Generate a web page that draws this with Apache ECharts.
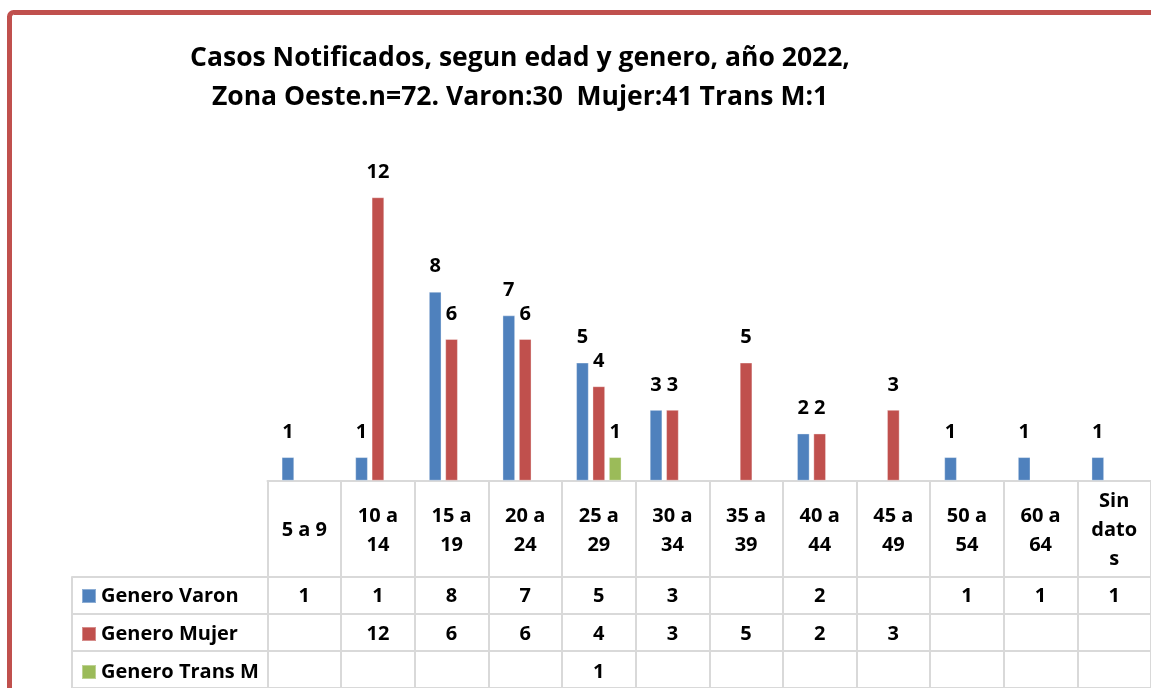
<!DOCTYPE html>
<html>
<head>
<meta charset="utf-8">
<title>Casos Notificados 2022 - Zona Oeste</title>
<script src="https://cdn.jsdelivr.net/npm/echarts@6/dist/echarts.min.js"></script>
<style>
  html, body { margin: 0; padding: 0; background: #ffffff; }
  #chart { width: 1151px; height: 688px; }
</style>
</head>
<body>
<div id="chart"></div>
<script>
// Age groups (table header row) and their wrapped labels
const categories = ['5 a 9', '10 a 14', '15 a 19', '20 a 24', '25 a 29', '30 a 34',
                    '35 a 39', '40 a 44', '45 a 49', '50 a 54', '60 a 64', 'Sin datos'];
const categoryLabels = ['5 a 9', '10 a\n14', '15 a\n19', '20 a\n24', '25 a\n29', '30 a\n34',
                        '35 a\n39', '40 a\n44', '45 a\n49', '50 a\n54', '60 a\n64', 'Sin\ndato\ns'];

// Cases per gender (null = no cases reported)
const seriesNames = ['Genero Varon', 'Genero Mujer', 'Genero Trans M'];
const varon = [1, 1, 8, 7, 5, 3, null, 2, null, 1, 1, 1];
const mujer = [null, 12, 6, 6, 4, 3, 5, 2, 3, null, null, null];
const trans = [null, null, null, null, 1, null, null, null, null, null, null, null];

const colors = ['#4f81bd', '#c0504d', '#9bbb59'];
const FONT = '"Open Sans"';
const GRID_LINE = '#d9d9d9';
const TEXT_SIZE = 20;

const chart = echarts.init(document.getElementById('chart'), null, { renderer: 'canvas' });

const cellText = (arr) => (v, i) => (arr[i] == null ? '' : String(arr[i]));

// One hidden-line category axis per table row, stacked under the plot
function rowAxis(arr, offset) {
  return {
    type: 'category',
    gridIndex: 0,
    position: 'bottom',
    offset: offset,
    data: categories,
    axisLine: { show: false },
    axisTick: { show: false },
    axisLabel: {
      interval: 0,
      margin: 20,
      verticalAlign: 'middle',
      formatter: cellText(arr),
      color: '#000',
      fontFamily: FONT,
      fontWeight: 'bold',
      fontSize: TEXT_SIZE
    }
  };
}

function barSeries(name, data, color) {
  return {
    name: name,
    type: 'bar',
    xAxisIndex: 0,
    yAxisIndex: 0,
    data: data,
    barWidth: 12.7,
    barGap: '29%',
    itemStyle: { color: color, borderColor: 'rgba(255,255,255,0.35)', borderWidth: 1 },
    label: {
      show: true,
      position: 'top',
      distance: 15,
      color: '#000',
      fontFamily: FONT,
      fontWeight: 'bold',
      fontSize: TEXT_SIZE,
      lineHeight: 20
    }
  };
}

const option = {
  backgroundColor: '#ffffff',
  animation: false,
  color: colors,
  title: {
    text: 'Casos Notificados, segun edad y genero, año 2022,\nZona Oeste.n=72. Varon:30  Mujer:41 Trans M:1',
    left: 520,
    top: 39,
    textAlign: 'center',
    padding: 0,
    textStyle: {
      color: '#000',
      fontFamily: FONT,
      fontWeight: 'bold',
      fontSize: 26.5,
      lineHeight: 39
    }
  },
  legend: {
    orient: 'vertical',
    left: 81,
    top: 586,
    icon: 'rect',
    itemWidth: 14,
    itemHeight: 14,
    itemGap: 18,
    selectedMode: false,
    padding: 0,
    data: seriesNames,
    textStyle: {
      color: '#000',
      fontFamily: FONT,
      fontWeight: 'bold',
      fontSize: TEXT_SIZE,
      lineHeight: 20
    }
  },
  graphic: [{
    type: 'rect',
    shape: { x: 9.5, y: 12.5, width: 1300, height: 900, r: 4 },
    style: { fill: 'none', stroke: '#c0504d', lineWidth: 5 },
    silent: true
  }],
  grid: [
    // plot area: category columns, bars sit on the header row line
    { left: 267.5, top: 150, width: 891, height: 330.7 },
    // data-table rows, spanning the legend column and all category columns
    { left: 72, top: 577, width: 1100, height: 114 }
  ],
  xAxis: [
    {
      type: 'category',
      gridIndex: 0,
      position: 'bottom',
      data: categories,
      axisLine: { show: true, lineStyle: { color: GRID_LINE, width: 2 } },
      axisTick: { show: true, interval: 0, length: 215, lineStyle: { color: GRID_LINE, width: 2 } },
      axisLabel: {
        interval: 0,
        margin: 50,
        verticalAlign: 'middle',
        lineHeight: 29,
        formatter: (v, i) => categoryLabels[i],
        color: '#000',
        fontFamily: FONT,
        fontWeight: 'bold',
        fontSize: TEXT_SIZE
      }
    },
    rowAxis(varon, 96),
    rowAxis(mujer, 134),
    rowAxis(trans, 172),
    { type: 'value', gridIndex: 1, show: false, min: 0, max: 1 }
  ],
  yAxis: [
    { type: 'value', gridIndex: 0, min: 0, max: 14, show: false },
    {
      type: 'value',
      gridIndex: 1,
      min: 0,
      max: 3,
      interval: 1,
      inverse: true,
      axisLine: { show: true, lineStyle: { color: GRID_LINE, width: 2 } },
      axisTick: { show: false },
      axisLabel: { show: false },
      splitLine: { show: true, lineStyle: { color: GRID_LINE, width: 2 } }
    }
  ],
  series: [
    barSeries(seriesNames[0], varon, colors[0]),
    barSeries(seriesNames[1], mujer, colors[1]),
    barSeries(seriesNames[2], trans, colors[2])
  ]
};

chart.setOption(option);
</script>
</body>
</html>
